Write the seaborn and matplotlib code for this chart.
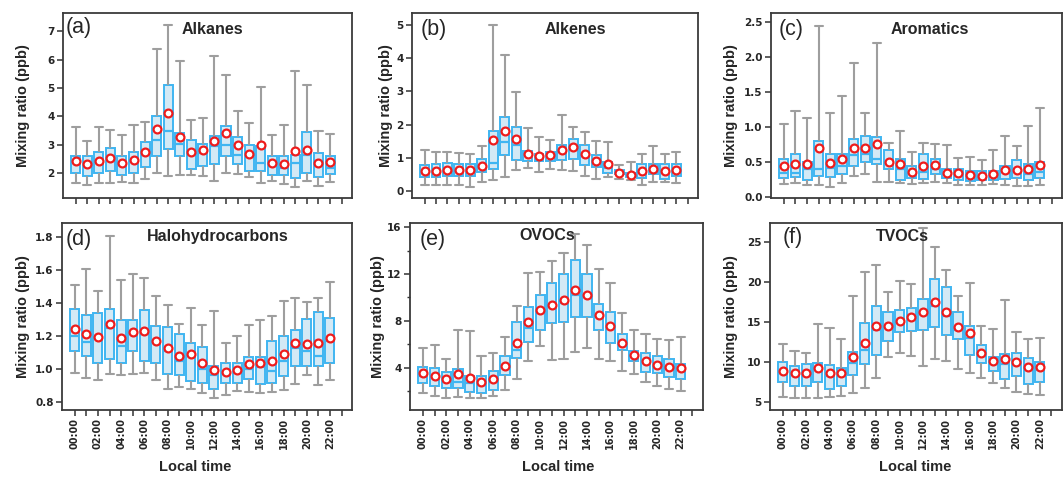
import numpy as np
import pandas as pd
import matplotlib
matplotlib.use("Agg")
import matplotlib.pyplot as plt
import seaborn as sns
from matplotlib.ticker import MultipleLocator

# ---------------- data ----------------
hours = list(range(23))
tick_positions = list(range(24))
tick_labels = [f"{h:02d}:00" if (h % 2 == 0 and h < 23) else "" for h in tick_positions]

titles = ["Alkanes", "Alkenes", "Aromatics", "Halohydrocarbons", "OVOCs", "TVOCs"]
panel_tags = ["(a)", "(b)", "(c)", "(d)", "(e)", "(f)"]

alk_lo = [1.65,1.58,1.64,1.64,1.67,1.64,1.79,2.02,1.88,1.94,1.94,1.88,1.71,2.00,1.98,1.86,1.65,1.73,1.61,1.51,1.71,1.55,1.67]
alk_q1 = [2.00,1.91,2.00,2.06,1.94,2.02,2.21,2.61,2.85,2.59,2.16,2.24,2.32,2.59,2.32,2.09,2.09,1.94,1.92,1.82,2.00,1.86,1.96]
alk_med = [2.35,2.30,2.40,2.45,2.30,2.40,2.70,3.18,3.47,3.04,2.76,2.71,2.94,2.98,2.65,2.71,2.35,2.38,2.18,2.35,2.65,2.35,2.18]
alk_q3 = [2.61,2.61,2.76,2.88,2.61,2.73,3.08,4.02,5.12,3.41,3.15,3.04,3.32,3.65,3.29,2.99,2.94,2.61,2.61,2.65,3.45,2.71,2.59]
alk_hi = [3.62,3.12,3.61,3.52,3.35,3.68,3.80,6.39,7.24,5.96,3.86,3.94,6.14,5.47,4.18,3.76,5.04,3.33,3.71,5.61,5.12,3.47,3.39]
alk_mean = [2.41,2.33,2.41,2.52,2.35,2.46,2.74,3.55,4.12,3.26,2.76,2.82,3.14,3.41,2.98,2.68,2.98,2.35,2.32,2.79,2.82,2.35,2.38]

ene_lo = [0.18,0.18,0.20,0.20,0.13,0.28,0.35,0.43,0.63,0.70,0.57,0.67,0.63,0.62,0.47,0.38,0.43,0.38,0.35,0.20,0.28,0.28,0.25]
ene_q1 = [0.43,0.43,0.45,0.45,0.45,0.57,0.67,1.08,0.93,0.90,0.90,0.90,0.93,0.98,0.78,0.72,0.55,0.52,0.43,0.40,0.52,0.38,0.45]
ene_med = [0.55,0.55,0.60,0.60,0.58,0.70,0.85,1.47,1.40,1.10,1.05,1.10,1.20,1.35,1.10,0.90,0.70,0.57,0.48,0.60,0.70,0.60,0.67]
ene_q3 = [0.78,0.83,0.85,0.83,0.83,0.98,1.80,2.23,1.93,1.20,1.13,1.17,1.39,1.57,1.40,1.10,0.87,0.63,0.55,0.83,0.83,0.83,0.83]
ene_hi = [1.25,1.17,1.17,1.15,1.13,1.37,5.00,4.10,2.97,1.90,1.63,1.53,2.28,1.92,1.78,1.50,1.48,0.78,0.88,1.13,1.35,1.13,1.18]
ene_mean = [0.60,0.60,0.65,0.65,0.63,0.75,1.53,1.82,1.58,1.13,1.07,1.10,1.23,1.32,1.13,0.90,0.82,0.55,0.48,0.62,0.68,0.60,0.65]

aro_lo = [0.19,0.20,0.18,0.17,0.15,0.20,0.30,0.33,0.22,0.22,0.20,0.19,0.20,0.22,0.20,0.18,0.18,0.17,0.19,0.17,0.16,0.16,0.18]
aro_q1 = [0.27,0.29,0.25,0.30,0.29,0.33,0.44,0.50,0.47,0.40,0.24,0.28,0.26,0.33,0.27,0.24,0.23,0.24,0.25,0.26,0.28,0.25,0.27]
aro_med = [0.35,0.35,0.40,0.40,0.42,0.45,0.60,0.62,0.55,0.50,0.40,0.35,0.36,0.40,0.33,0.32,0.30,0.30,0.32,0.36,0.40,0.33,0.36]
aro_q3 = [0.55,0.62,0.50,0.80,0.62,0.62,0.83,0.87,0.86,0.68,0.55,0.44,0.62,0.55,0.40,0.40,0.38,0.37,0.38,0.45,0.53,0.47,0.50]
aro_hi = [1.05,1.23,1.13,2.45,1.21,1.44,1.91,1.20,2.20,0.78,0.95,0.64,0.78,0.76,0.74,0.56,0.57,0.53,0.67,0.87,0.73,1.02,1.28]
aro_mean = [0.45,0.48,0.47,0.71,0.49,0.55,0.71,0.71,0.76,0.50,0.47,0.36,0.44,0.46,0.35,0.35,0.32,0.31,0.33,0.39,0.39,0.40,0.46]

hal_lo = [0.975,0.945,0.935,0.97,0.965,0.97,0.975,0.93,0.875,0.89,0.875,0.855,0.825,0.84,0.865,0.86,0.855,0.86,0.87,0.91,0.96,0.90,0.93]
hal_q1 = [1.11,1.08,1.035,1.06,1.035,1.11,1.05,1.035,0.97,0.965,0.925,0.915,0.88,0.915,0.915,0.94,0.91,0.915,0.955,1.02,1.015,1.02,1.035]
hal_med = [1.20,1.165,1.20,1.25,1.14,1.21,1.22,1.17,1.11,1.05,1.08,1.00,0.96,0.97,0.98,1.00,1.01,0.99,1.05,1.13,1.11,1.08,1.17]
hal_q3 = [1.365,1.33,1.34,1.365,1.30,1.30,1.355,1.26,1.255,1.21,1.16,1.135,1.02,1.035,1.035,1.07,1.07,1.17,1.20,1.235,1.305,1.345,1.31]
hal_hi = [1.51,1.61,1.475,1.81,1.54,1.575,1.555,1.445,1.39,1.275,1.37,1.265,1.35,1.155,1.20,1.265,1.30,1.32,1.41,1.43,1.405,1.43,1.53]
hal_mean = [1.24,1.215,1.195,1.27,1.19,1.225,1.23,1.17,1.13,1.08,1.09,1.035,0.995,0.98,0.995,1.03,1.035,1.05,1.09,1.16,1.15,1.155,1.185]

ovo_lo = [1.86,1.60,1.43,1.51,1.43,1.43,1.60,2.09,3.00,4.57,5.89,4.66,4.71,5.37,5.66,4.71,4.57,3.71,3.43,2.74,2.43,2.17,2.00]
ovo_q1 = [2.66,2.46,2.23,2.23,1.89,1.86,2.09,3.37,4.86,6.17,7.23,7.86,7.94,8.31,8.37,7.23,6.09,5.51,4.57,3.66,3.51,3.17,3.00]
ovo_med = [3.30,3.20,2.90,2.75,2.70,2.50,2.90,4.10,5.50,7.40,8.80,9.30,9.50,10.20,10.00,8.40,7.40,6.20,5.00,4.50,4.00,4.00,3.80]
ovo_q3 = [4.09,4.00,3.66,3.86,3.31,3.31,3.71,5.00,7.89,9.17,10.23,11.23,12.00,13.17,12.00,9.46,8.74,6.86,5.43,5.29,5.00,4.71,4.29]
ovo_hi = [5.66,5.94,4.71,7.23,7.14,5.00,5.23,6.60,9.30,12.10,12.20,13.10,13.80,15.40,14.50,12.46,11.20,8.66,7.23,6.86,6.43,6.37,6.60]
ovo_mean = [3.51,3.31,3.03,3.46,3.09,2.74,3.03,4.17,6.09,7.94,8.94,9.37,9.80,10.66,10.23,8.51,7.60,6.14,5.09,4.60,4.23,4.09,4.00]

tvo_lo = [5.6,5.5,5.5,5.5,5.6,5.75,6.05,6.75,8.0,10.6,11.1,10.7,9.45,10.4,10.1,9.15,8.6,8.0,7.3,6.75,6.25,5.9,5.8]
tvo_q1 = [7.4,7.0,6.96,7.4,6.6,6.96,8.4,9.67,10.8,12.6,13.75,13.8,13.95,14.4,13.3,12.8,10.9,9.9,8.9,7.9,8.25,7.2,7.5]
tvo_med = [8.6,8.3,8.3,9.0,8.2,8.4,9.8,11.5,14.0,14.3,14.8,15.3,16.0,17.0,15.7,14.0,13.0,11.0,9.9,9.7,9.8,9.0,9.0]
tvo_q3 = [10.0,9.5,9.7,9.9,9.6,9.25,11.25,14.9,17.0,16.3,16.5,16.8,17.9,20.4,19.4,16.2,14.5,12.1,10.6,11.0,11.05,10.5,10.0]
tvo_hi = [12.17,11.4,11.1,14.7,14.25,12.8,18.3,21.3,22.1,18.75,20.1,19.8,26.8,24.4,21.5,18.3,19.9,14.5,14.1,17.7,13.7,12.8,13.0]
tvo_mean = [8.9,8.65,8.55,9.25,8.55,8.55,10.55,12.3,14.45,14.5,15.1,15.55,16.25,17.5,16.3,14.3,13.55,11.15,10.1,10.3,10.0,9.4,9.4]

panels = [
    (alk_lo, alk_q1, alk_med, alk_q3, alk_hi, alk_mean),
    (ene_lo, ene_q1, ene_med, ene_q3, ene_hi, ene_mean),
    (aro_lo, aro_q1, aro_med, aro_q3, aro_hi, aro_mean),
    (hal_lo, hal_q1, hal_med, hal_q3, hal_hi, hal_mean),
    (ovo_lo, ovo_q1, ovo_med, ovo_q3, ovo_hi, ovo_mean),
    (tvo_lo, tvo_q1, tvo_med, tvo_q3, tvo_hi, tvo_mean),
]

# ---------------- layout / style ----------------
W, H = 1064, 479
# (left, top, right, bottom) in pixels
boxes_px = [(63, 13, 352, 198), (412, 13, 698, 198), (771, 13, 1062, 198),
            (62, 223, 352, 410), (410, 223, 703, 410), (770, 223, 1062, 410)]
ylims = [(1.12, 7.65), (-0.2, 5.35), (-0.01, 2.63), (0.75, 1.887), (0.38, 16.37), (3.95, 27.4)]
yticks = [np.arange(2, 7.01, 1), np.arange(0, 5.01, 1), np.arange(0, 2.51, 0.5),
          np.arange(0.8, 1.81, 0.2), np.arange(4, 16.01, 4), np.arange(5, 25.01, 5)]
ytickfmt = ["{:.0f}", "{:.0f}", "{:.1f}", "{:.1f}", "{:.0f}", "{:.0f}"]
title_xy = [(0.516, 0.91), (0.57, 0.91), (0.546, 0.91), (0.538, 0.93), (0.468, 0.935), (0.452, 0.93)]
tag_xy = [(79, 28), (434, 29), (791, 30), (79, 240), (433, 240), (793, 238)]
ylab_x = [-0.114, -0.066, -0.113, -0.110, -0.085, -0.11]
xlab_x = [0.459, 0.506, 0.496]

sns.set_style("ticks")
plt.rcParams['font.family'] = ['DejaVu Sans']

fig = plt.figure(figsize=(W / 100, H / 100), dpi=100)

box_fill = "#cdebfb"
box_edge = "#3fb5f1"
whisk_col = "#9e9e9e"

for i, (lo, q1, med, q3, hi, mean) in enumerate(panels):
    l, t, r, b = boxes_px[i]
    ax = fig.add_axes([l / W, 1 - b / H, (r - l) / W, (b - t) / H])
    rows = []
    for h in hours:
        for v in (lo[h], q1[h], med[h], q3[h], hi[h]):
            rows.append({"hour": h, "value": v})
    df = pd.DataFrame(rows)
    sns.boxplot(data=df, x="hour", y="value", order=hours, whis=(0, 100), width=0.78,
                color=box_fill, linecolor=box_edge, linewidth=1.4, fliersize=0,
                whiskerprops=dict(color=whisk_col, linewidth=1.5),
                capprops=dict(color=whisk_col, linewidth=1.5),
                medianprops=dict(color=box_edge, linewidth=1.6),
                capwidths=0.7, ax=ax)
    sns.scatterplot(x=hours, y=mean, ax=ax, marker="o", s=32, facecolor="white",
                    edgecolor="#ee1c1c", linewidth=1.6, zorder=5, legend=False)

    ax.set_xlim(-1.1, 23.9)
    ax.set_ylim(*ylims[i])
    ax.set_xticks(tick_positions)
    ax.set_yticks(yticks[i])
    ax.set_yticklabels([ytickfmt[i].format(v) for v in yticks[i]], fontsize=7.5, fontweight="bold")
    if i >= 3:
        ax.set_xticklabels(tick_labels, rotation=90, fontsize=7, fontweight="bold")
        ax.set_xlabel("Local time", fontsize=10.5, fontweight="bold", family="Liberation Sans")
        ax.xaxis.set_label_coords(xlab_x[i - 3], -0.27)
    else:
        ax.set_xticklabels([""] * len(tick_positions))
        ax.set_xlabel("")
    if i == 4:
        ax.yaxis.set_minor_locator(MultipleLocator(2))
        ax.tick_params(axis="y", which="minor", length=2.5, width=1, color="#333333")
    ax.set_ylabel("Mixing ratio (ppb)", fontsize=10.5, fontweight="bold", family="Liberation Sans")
    ax.yaxis.set_label_coords(ylab_x[i], 0.5)
    ax.tick_params(axis="both", which="major", direction="out", length=4, width=1.1,
                   color="#333333", pad=2)
    for sp in ax.spines.values():
        sp.set_visible(True)
        sp.set_color("#3a3a3a")
        sp.set_linewidth(1.3)
    ax.text(title_xy[i][0], title_xy[i][1], titles[i], transform=ax.transAxes,
            ha="center", va="center", fontsize=11.5, fontweight="bold", family="Liberation Sans")
    fig.text(tag_xy[i][0] / W, 1 - tag_xy[i][1] / H, panel_tags[i], ha="center", va="center",
             fontsize=15.5, family="Liberation Sans")

fig.savefig("out.png", dpi=100)
